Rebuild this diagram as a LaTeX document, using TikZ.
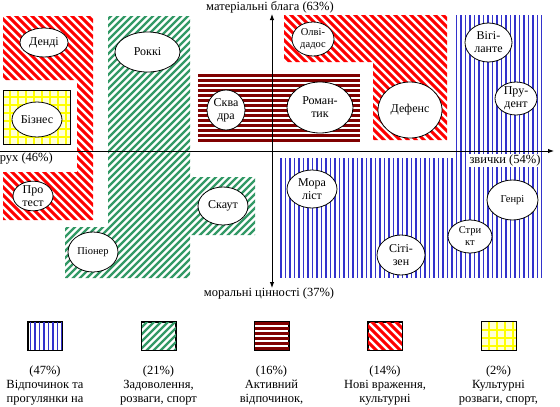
\documentclass[tikz,border=0pt]{standalone}
\usepackage{fontspec}
\setmainfont{Liberation Serif}
\usetikzlibrary{shapes.geometric,arrows.meta}
\definecolor{stripered}{RGB}{255,0,0}
\definecolor{stripegreen}{RGB}{51,153,102}
\definecolor{stripeblue}{RGB}{51,51,204}
\definecolor{maroonc}{RGB}{128,0,0}
\definecolor{gridyellow}{RGB}{255,255,0}
\definecolor{paleyellow}{RGB}{255,255,215}
\tikzset{
 redline/.style={stripered, line width=3pt},
 greenline/.style={stripegreen, line width=2.2pt},
 blueline/.style={stripeblue, line width=1.4pt},
 maroonline/.style={maroonc, line width=2.6pt},
 yellowline/.style={gridyellow, line width=1.2pt},
 oval/.style={ellipse, draw=black, line width=0.8pt, fill=white, inner sep=0pt, align=center, font=\fontsize{12}{13}\selectfont},
 smalloval/.style={oval, font=\fontsize{10.5}{12}\selectfont},
 axis/.style={black, line width=1pt},
 axlabel/.style={font=\fontsize{12.5}{14}\selectfont, inner sep=1pt},
 legtext/.style={align=center, font=\fontsize{12.5}{14}\selectfont, inner sep=0pt},
 swatch/.style={draw=black, line width=0.8pt, minimum width=34pt, minimum height=28pt, inner sep=0pt},
}
\begin{document}
\begin{tikzpicture}[x=1pt,y=-1pt]
\useasboundingbox[fill=white] (0,0) rectangle (560,407);

% ---- red region, left
\begin{scope}
\clip (3,16) rectangle (93,80) (77,80) rectangle (93,172) (3,172) rectangle (93,220);
\foreach \c in {-224,-216,...,96} \draw[redline] (\c,0) -- ++(230,230);
\end{scope}
% ---- red region, right
\begin{scope}
\clip (284,15) rectangle (447,62) (373,62) rectangle (447,140);
\foreach \c in {140,148,...,440} \draw[redline] (\c,0) -- ++(150,150);
\end{scope}
% ---- green region
\begin{scope}
\clip (108,16) rectangle (190,278) (190,177) rectangle (255,235) (65,227) rectangle (108,278);
\foreach \c in {78,85,...,540} \draw[greenline] (\c,0) -- ++(-290,290);
\end{scope}
% ---- blue region
\begin{scope}
\clip (455,15) rectangle (542,158) (280,158) rectangle (542,278);
\foreach \x in {281,285.5,...,542} \draw[blueline] (\x,15) -- (\x,278);
\end{scope}
% ---- maroon region
\begin{scope}
\clip (198,74) rectangle (360,142);
\foreach \y in {75.5,80.5,...,142} \draw[maroonline] (198,\y) -- (360,\y);
\end{scope}
% ---- yellow box
\begin{scope}
\clip (3,90) rectangle (70,144);
\fill[paleyellow] (3,90) rectangle (70,144);
\foreach \x in {10,18,...,70} \draw[yellowline] (\x,90) -- (\x,144);
\foreach \y in {97,105,...,144} \draw[yellowline] (3,\y) -- (70,\y);
\end{scope}
\draw[black, line width=0.8pt] (3,90) rectangle (70,144);

% ---- axes
\coordinate (vtop) at (272,14);
\coordinate (vbot) at (272,288);
\coordinate (hleft) at (0,151);
\coordinate (hright) at (554,151);
\draw[axis, {Latex[length=6pt,width=4.5pt]}-{Latex[length=6pt,width=4.5pt]}] (vbot) -- (vtop);
\draw[axis, -{Latex[length=6pt,width=4.5pt]}] (hleft) -- (hright);

% ---- ellipses
\node[oval, minimum width=48pt, minimum height=29pt] (dendi) at (44,42.5) {Денді};
\node[oval, minimum width=65pt, minimum height=40pt] (rokki) at (147.5,52) {Роккі};
\node[oval, minimum width=50pt, minimum height=35pt] (biznes) at (37,119.5) {Бізнес};
\node[oval, minimum width=38pt, minimum height=40pt] (skvadra) at (226,110) {Сква\\дра};
\node[oval, minimum width=66pt, minimum height=51pt] (romantyk) at (320,107.5) {Роман-\\тик};
\node[smalloval, minimum width=42pt, minimum height=34pt] (olvidados) at (313,39) {Олві-\\дадос};
\node[oval, minimum width=64pt, minimum height=56pt] (defens) at (410,110) {Дефенс};
\node[oval, minimum width=47pt, minimum height=39pt] (vigilante) at (488.5,42.5) {Вігі-\\ланте};
\node[oval, minimum width=42pt, minimum height=33pt] (prudent) at (516,98.5) {Пру-\\дент};
\node[oval, minimum width=40pt, minimum height=29pt] (protest) at (33,196) {Про\\тест};
\node[oval, minimum width=50pt, minimum height=38pt] (skaut) at (223,206) {Скаут};
\node[smalloval, minimum width=50pt, minimum height=40pt] (pioner) at (93,252) {Піонер};
\node[oval, minimum width=50pt, minimum height=38pt] (moralist) at (312,189) {Мора\\ліст};
\node[oval, minimum width=48pt, minimum height=40pt] (sitizen) at (401,255) {Сіті-\\зен};
\node[smalloval, minimum width=44pt, minimum height=33pt] (stryct) at (470,236.5) {Стри\\кт};
\node[smalloval, minimum width=51pt, minimum height=40pt] (genri) at (512.5,200) {Генрі};

% ---- axis labels
\node[axlabel] (ltop) at (270,7) {матеріальні блага (63\%)};
\node[axlabel] (lbot) at (269,293) {моральні цінності (37\%)};
\node[axlabel, fill=white] (lright) at (505,160.5) {звички (54\%)};
\node[axlabel, anchor=east] (lleft) at (54,159) {рух (46\%)};

% ---- legend swatches
\node[swatch] (sw1) at (45,336) {};
\node[swatch] (sw2) at (158.5,336) {};
\node[swatch] (sw3) at (271.5,336) {};
\node[swatch] (sw4) at (385,336) {};
\node[swatch] (sw5) at (498.5,336) {};
\begin{scope}
\clip (sw1.south west) rectangle (sw1.north east);
\foreach \x in {30.5,35,...,62} \draw[blueline] (\x,322) -- (\x,350);
\end{scope}
\begin{scope}
\clip (sw2.south west) rectangle (sw2.north east);
\foreach \c in {142,149,...,210} \draw[greenline] (\c,320) -- ++(-35,35);
\end{scope}
\begin{scope}
\clip (sw3.south west) rectangle (sw3.north east);
\foreach \y in {323.5,328.5,...,350} \draw[maroonline] (254,\y) -- (289,\y);
\end{scope}
\begin{scope}
\clip (sw4.south west) rectangle (sw4.north east);
\foreach \c in {330,338,...,410} \draw[redline] (\c,320) -- ++(35,35);
\end{scope}
\begin{scope}
\clip (sw5.south west) rectangle (sw5.north east);
\fill[paleyellow] (481,322) rectangle (516,350);
\foreach \x in {489,497,...,516} \draw[yellowline] (\x,322) -- (\x,350);
\foreach \y in {330,338,...,350} \draw[yellowline] (481,\y) -- (516,\y);
\end{scope}
\foreach \s in {sw1,sw2,sw3,sw4,sw5} \draw[black, line width=0.8pt] (\s.south west) rectangle (\s.north east);

% ---- legend texts
\node[legtext, anchor=north] (t1) at (45,366) {(47\%)\\Відпочинок та\\прогулянки на};
\node[legtext, anchor=north] (t2) at (158.5,366) {(21\%)\\Задоволення,\\розваги, спорт};
\node[legtext, anchor=north] (t3) at (271.5,366) {(16\%)\\Активний\\відпочинок,};
\node[legtext, anchor=north] (t4) at (385,366) {(14\%)\\Нові враження,\\культурні};
\node[legtext, anchor=north] (t5) at (498.5,366) {(2\%)\\Культурні\\розваги, спорт,};
\end{tikzpicture}
\end{document}
